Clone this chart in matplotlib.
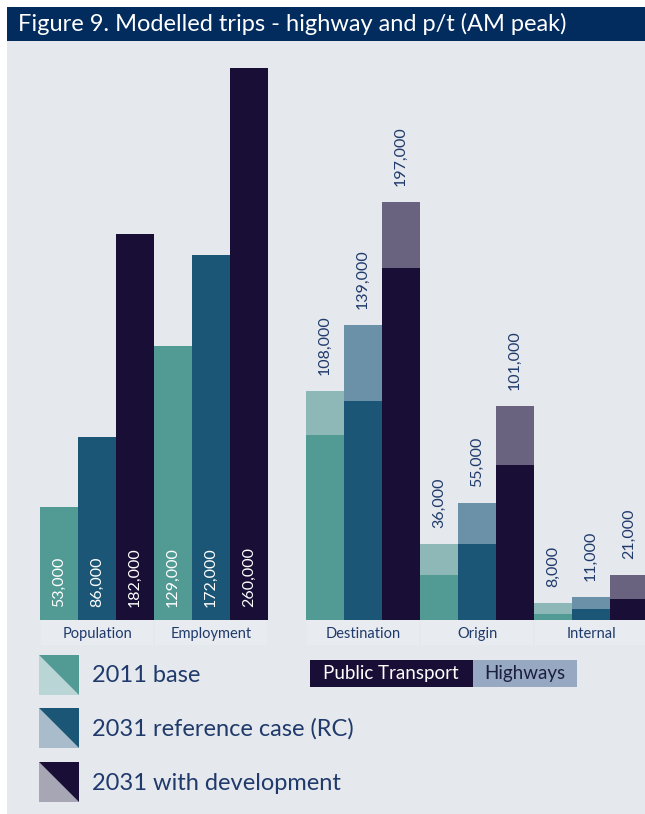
import matplotlib
matplotlib.use('Agg')
import matplotlib.pyplot as plt
from matplotlib.patches import Rectangle, Polygon
import numpy as np

plt.rcParams['font.family'] = ['Lato', 'DejaVu Sans']

# data (thousands of trips)
left_cats = ['Population', 'Employment']
left_base = [53, 129]
left_rc = [86, 172]
left_dev = [182, 260]

right_cats = ['Destination', 'Origin', 'Internal']
base_total = [108, 36, 8]
base_pt = [87, 21, 3]
rc_total = [139, 55, 11]
rc_pt = [103, 36, 5]
dev_total = [197, 101, 21]
dev_pt = [166, 73, 10]

series_names = ['2011 base', '2031 reference case (RC)', '2031 with development']

# colours
bg = '#e5e8ed'
band = '#e8ebef'
navy = '#022b5e'
txt = '#1f3a6b'
pt_cols = ['#529b94', '#1b5676', '#190e35']
hw_cols = ['#8eb8b7', '#6b91a8', '#69637f']
leg_light = ['#b9d5d5', '#a8bccb', '#a6a6b4']

W, H = 645, 814
fig = plt.figure(figsize=(W / 100, H / 100), dpi=100)
fig.patch.set_facecolor('white')


def fx(px):
    return px / W


def fy(py):
    return 1 - py / H


# background + title bar
fig.patches.append(Rectangle((fx(7), 0), 1, fy(41), transform=fig.transFigure,
                             facecolor=bg, edgecolor='none', zorder=-10))
fig.patches.append(Rectangle((fx(7), fy(41)), 1, fy(7) - fy(41), transform=fig.transFigure,
                             facecolor=navy, edgecolor='none', zorder=-10))
fig.text(fx(18), fy(24), 'Figure 9. Modelled trips - highway and p/t (AM peak)',
         color='white', fontsize=17, va='center', ha='left')

# main axes: 1 x-unit = 38 px, baseline at y=620 px
x0, base_y, top_y = 40, 620, 42
px_per_k = 2.123
ax = fig.add_axes([fx(x0), fy(base_y), fx(W - x0), fy(top_y) - fy(base_y)])
ax.set_xlim(0, (W - x0) / 38)
ax.set_ylim(0, (base_y - top_y) / px_per_k)
ax.axis('off')
ax.patch.set_alpha(0)

# left groups: single bars, labels inside
for i in range(len(left_cats)):
    for j, vals in enumerate([left_base, left_rc, left_dev]):
        x = i * 3 + j
        ax.bar(x, vals[i], width=1, align='edge', color=pt_cols[j], linewidth=0)
        ax.annotate(f'{vals[i] * 1000:,}', (x + 0.5, 0), xytext=(0, 9.5),
                    textcoords='offset points', rotation=90, ha='center', va='bottom',
                    color='white', fontsize=11.5)

# right groups: public transport + highways stacked
totals = [base_total, rc_total, dev_total]
pts = [base_pt, rc_pt, dev_pt]
start = 7
for i in range(len(right_cats)):
    for j in range(3):
        x = start + i * 3 + j
        pt = pts[j][i]
        hw = totals[j][i] - pt
        ax.bar(x, pt, width=1, align='edge', color=pt_cols[j], linewidth=0)
        ax.bar(x, hw, bottom=pt, width=1, align='edge', color=hw_cols[j], linewidth=0)
        ax.annotate(f'{totals[j][i] * 1000:,}', (x + 0.5, totals[j][i]), xytext=(0, 11.5),
                    textcoords='offset points', rotation=90, ha='center', va='bottom',
                    color=txt, fontsize=11.5)

# category label cells
band_h = 25 / px_per_k
groups = [(i * 3, c) for i, c in enumerate(left_cats)] + \
         [(start + i * 3, c) for i, c in enumerate(right_cats)]
for gx, name in groups:
    ax.add_patch(Rectangle((gx + 0.02, -band_h), 2.96, band_h, facecolor=band,
                           edgecolor='none', clip_on=False))
    ax.text(gx + 1.5, -14 / px_per_k, name, ha='center', va='center',
            color=txt, fontsize=10.5)

# legend squares (split diagonally)
for k, (name, top) in enumerate(zip(series_names, [655, 708, 762])):
    l, r, t, b = 39, 79, top, top + 40
    fig.patches.append(Polygon([(fx(l), fy(t)), (fx(l), fy(b)), (fx(r), fy(b))],
                               closed=True, transform=fig.transFigure,
                               facecolor=leg_light[k], edgecolor='none'))
    fig.patches.append(Polygon([(fx(l), fy(t)), (fx(r), fy(t)), (fx(r), fy(b))],
                               closed=True, transform=fig.transFigure,
                               facecolor=pt_cols[k], edgecolor='none'))
    fig.text(fx(92), fy(top + 21), name, color=txt, fontsize=17, va='center', ha='left')

# public transport / highways key
fig.patches.append(Rectangle((fx(310), fy(687)), fx(163), fy(660) - fy(687),
                             transform=fig.transFigure, facecolor=pt_cols[2], edgecolor='none'))
fig.patches.append(Rectangle((fx(473), fy(687)), fx(104), fy(660) - fy(687),
                             transform=fig.transFigure, facecolor='#97a8c3', edgecolor='none'))
fig.text(fx(391), fy(673), 'Public Transport', color='white', fontsize=13.5,
         ha='center', va='center')
fig.text(fx(525), fy(673), 'Highways', color='#1a1f40', fontsize=13.5,
         ha='center', va='center')

fig.savefig('out.png', dpi=100, facecolor=fig.get_facecolor())
